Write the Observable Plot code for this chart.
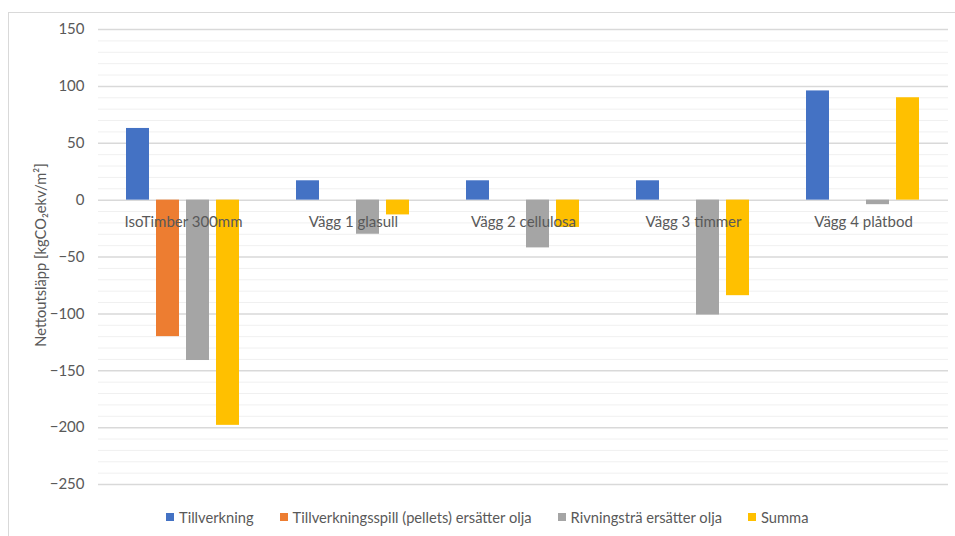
<!DOCTYPE html>
<html>
<head>
<meta charset="utf-8">
<script src="https://cdn.jsdelivr.net/npm/d3@7"></script>
<script src="https://cdn.jsdelivr.net/npm/@observablehq/plot@0.6"></script>
<style>
  html, body { margin: 0; padding: 0; background: #fff; }
  body { width: 955px; height: 536px; position: relative; overflow: hidden; font-family: Lato, "Open Sans", sans-serif; }
  #frame { position: absolute; left: 8px; top: 12px; right: -4px; bottom: -4px; border-left: 1.5px solid #d9d9d9; border-top: 1.5px solid #d9d9d9; pointer-events: none; }
  #chart { position: absolute; left: 0; top: 0; }
  #ylabel { position: absolute; left: 40px; top: 255px; transform: translate(-50%, -50%) rotate(-90deg); font-size: 14.7px; color: #595959; white-space: nowrap; }
  #legend { position: absolute; left: 166px; top: 508px; display: flex; gap: 26px; font-size: 14.7px; color: #595959; white-space: nowrap; }
  #legend .item { display: flex; align-items: center; gap: 5px; }
  #legend .sw { width: 8px; height: 8px; display: inline-block; }
</style>
</head>
<body>
<div id="chart"></div>
<div id="frame"></div>
<div id="ylabel"></div>
<div id="legend"></div>
<script>
const categories = ["IsoTimber 300mm", "Vägg 1 glasull", "Vägg 2 cellulosa", "Vägg 3 timmer", "Vägg 4 plåtbod"];
const seriesNames = ["Tillverkning", "Tillverkningsspill (pellets) ersätter olja", "Rivningsträ ersätter olja", "Summa"];
const seriesColors = ["#4472C4", "#ED7D31", "#A5A5A5", "#FFC000"];
const tillverkning = [63, 17, 17, 17, 96];
const tillverkningsspill = [-120, 0, 0, 0, 0];
const rivningstra = [-141, -30, -42, -101, -4];
const summa = [-198, -13, -24, -84, 90];
const majorTicks = [-250, -200, -150, -100, -50, 0, 50, 100, 150];
const minorTicks = [-240, -230, -220, -210, -190, -180, -170, -160, -140, -130, -120, -110, -90, -80, -70, -60, -40, -30, -20, -10, 10, 20, 30, 40, 60, 70, 80, 90, 110, 120, 130, 140];
const yLabel = "Nettoutsläpp [kgCO₂ekv/m²]";

const seriesValues = [tillverkning, tillverkningsspill, rivningstra, summa];
const rows = [];
categories.forEach((c, i) => {
  seriesNames.forEach((s, j) => {
    rows.push({cat: c, series: s, value: seriesValues[j][i]});
  });
});

const chart = Plot.plot({
  width: 955,
  height: 500,
  marginLeft: 97,
  marginRight: 6,
  marginTop: 29,
  marginBottom: 16,
  style: {fontFamily: "Lato, 'Open Sans', sans-serif", fontSize: "15px", color: "#595959", background: "transparent"},
  fx: {domain: categories, padding: 0, axis: null},
  x: {domain: seriesNames, paddingInner: 0.22, paddingOuter: 0.885, axis: null},
  y: {domain: [-250, 150]},
  color: {domain: seriesNames, range: seriesColors},
  marks: [
    Plot.ruleY(minorTicks, {stroke: "#f0f0f0", strokeWidth: 1}),
    Plot.ruleY(majorTicks, {stroke: "#d9d9d9", strokeWidth: 1.5}),
    Plot.barY(rows.filter(d => d.value !== 0), {fx: "cat", x: "series", y: "value", fill: "series"}),
    Plot.text(categories, {fx: d => d, y: () => 0, dy: 22, text: d => d, fill: "#595959", fontSize: 15}),
    Plot.axisY({ticks: majorTicks, tickSize: 0, tickPadding: 14, fill: "#595959", fontSize: 15, label: null})
  ]
});
document.getElementById("chart").appendChild(chart);
document.getElementById("ylabel").textContent = yLabel;

const legend = document.getElementById("legend");
seriesNames.forEach((s, i) => {
  const item = document.createElement("div");
  item.className = "item";
  const sw = document.createElement("span");
  sw.className = "sw";
  sw.style.background = seriesColors[i];
  const t = document.createElement("span");
  t.textContent = s;
  item.appendChild(sw);
  item.appendChild(t);
  legend.appendChild(item);
});
</script>
</body>
</html>
